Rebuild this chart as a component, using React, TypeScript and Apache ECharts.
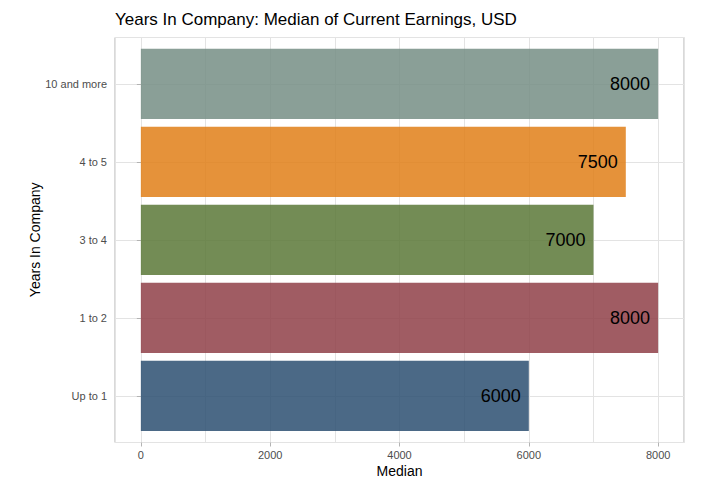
import React, { useEffect, useRef } from "react";
import * as echarts from "echarts";

// Data (bottom to top as ECharts draws category axes)
const categories = ["Up to 1", "1 to 2", "3 to 4", "4 to 5", "10 and more"];
const medians = [6000, 8000, 7000, 7500, 8000];
const xTickLabels = [0, 2000, 4000, 6000, 8000];

// Styles
const barColors = ["#2c4f71", "#8f4048", "#5b7837", "#e17f17", "#758e85"];
const BAR_ALPHA = 0.85;
const FONT = "'Liberation Sans', Arial, Helvetica, sans-serif";

export default function App() {
  const ref = useRef<HTMLDivElement>(null);

  useEffect(() => {
    const chart = echarts.init(ref.current as HTMLDivElement, null, { renderer: "svg" });
    const panel = { left: 115, top: 37.5, width: 569, height: 405 };
    const band = { left: 115, top: 44.8, width: 569, height: 390 };

    chart.setOption({
      animation: false,
      backgroundColor: "#ffffff",
      textStyle: { fontFamily: FONT },
      title: {
        text: "Years In Company: Median of Current Earnings, USD",
        left: 115,
        top: 11,
        padding: 0,
        textStyle: { fontSize: 17, fontWeight: "normal", color: "#000000", fontFamily: FONT },
      },
      grid: [
        { ...panel, show: true, borderColor: "#b3b3b3", borderWidth: 1, backgroundColor: "transparent" },
        { ...band, show: false },
      ],
      xAxis: [
        {
          gridIndex: 0,
          type: "value",
          position: "top",
          min: -400,
          max: 8400,
          splitNumber: 9,
          axisLine: { show: false },
          axisTick: { show: false },
          axisLabel: { show: false },
          splitLine: { show: true, lineStyle: { color: "#e3e3e3", width: 1 } },
        },
        {
          gridIndex: 0,
          type: "value",
          position: "bottom",
          min: -400,
          max: 8400,
          axisLine: { show: false },
          axisTick: {
            show: true,
            length: 4,
            customValues: xTickLabels,
            lineStyle: { color: "#b3b3b3" },
          },
          axisLabel: {
            show: true,
            customValues: xTickLabels,
            margin: 7,
            fontSize: 11,
            color: "#4d4d4d",
            fontFamily: FONT,
            formatter: (v: number) => String(v),
          },
          splitLine: { show: false },
          name: "Median",
          nameLocation: "middle",
          nameGap: 21,
          nameMoveOverlap: false,
          nameTextStyle: { fontSize: 14, color: "#000000", fontFamily: FONT },
        },
        { gridIndex: 1, type: "value", min: -400, max: 8400, show: false },
      ],
      yAxis: [
        {
          gridIndex: 0,
          type: "value",
          min: 0.4,
          max: 5.6,
          splitNumber: 5,
          axisLine: { show: false },
          axisTick: { show: false },
          axisLabel: { show: false },
          splitLine: { show: true, lineStyle: { color: "#e3e3e3", width: 1 } },
        },
        {
          gridIndex: 1,
          type: "category",
          data: categories,
          axisLine: { show: false },
          axisTick: { show: true, alignWithLabel: true, length: 4, lineStyle: { color: "#b3b3b3" } },
          axisLabel: { margin: 8, fontSize: 11, color: "#4d4d4d", fontFamily: FONT },
          splitLine: { show: false },
          name: "Years In Company",
          nameLocation: "middle",
          nameGap: 73,
          nameMoveOverlap: false,
          nameTextStyle: { fontSize: 14, color: "#000000", fontFamily: FONT },
        },
      ],
      series: [
        {
          type: "bar",
          xAxisIndex: 2,
          yAxisIndex: 1,
          barWidth: "90%",
          data: medians.map((v, i) => ({
            value: v,
            itemStyle: { color: echarts.color.modifyAlpha(barColors[i], BAR_ALPHA) },
          })),
          label: {
            show: true,
            position: "insideRight",
            distance: 8,
            fontSize: 18,
            color: "#000000",
            textBorderWidth: 0,
            fontFamily: FONT,
            formatter: (p: any) => String(p.value),
          },
        },
      ],
    });

    return () => chart.dispose();
  }, []);

  return (
    <div
      ref={ref}
      style={{ position: "absolute", left: 0, top: 0, width: 718, height: 493 }}
    />
  );
}
